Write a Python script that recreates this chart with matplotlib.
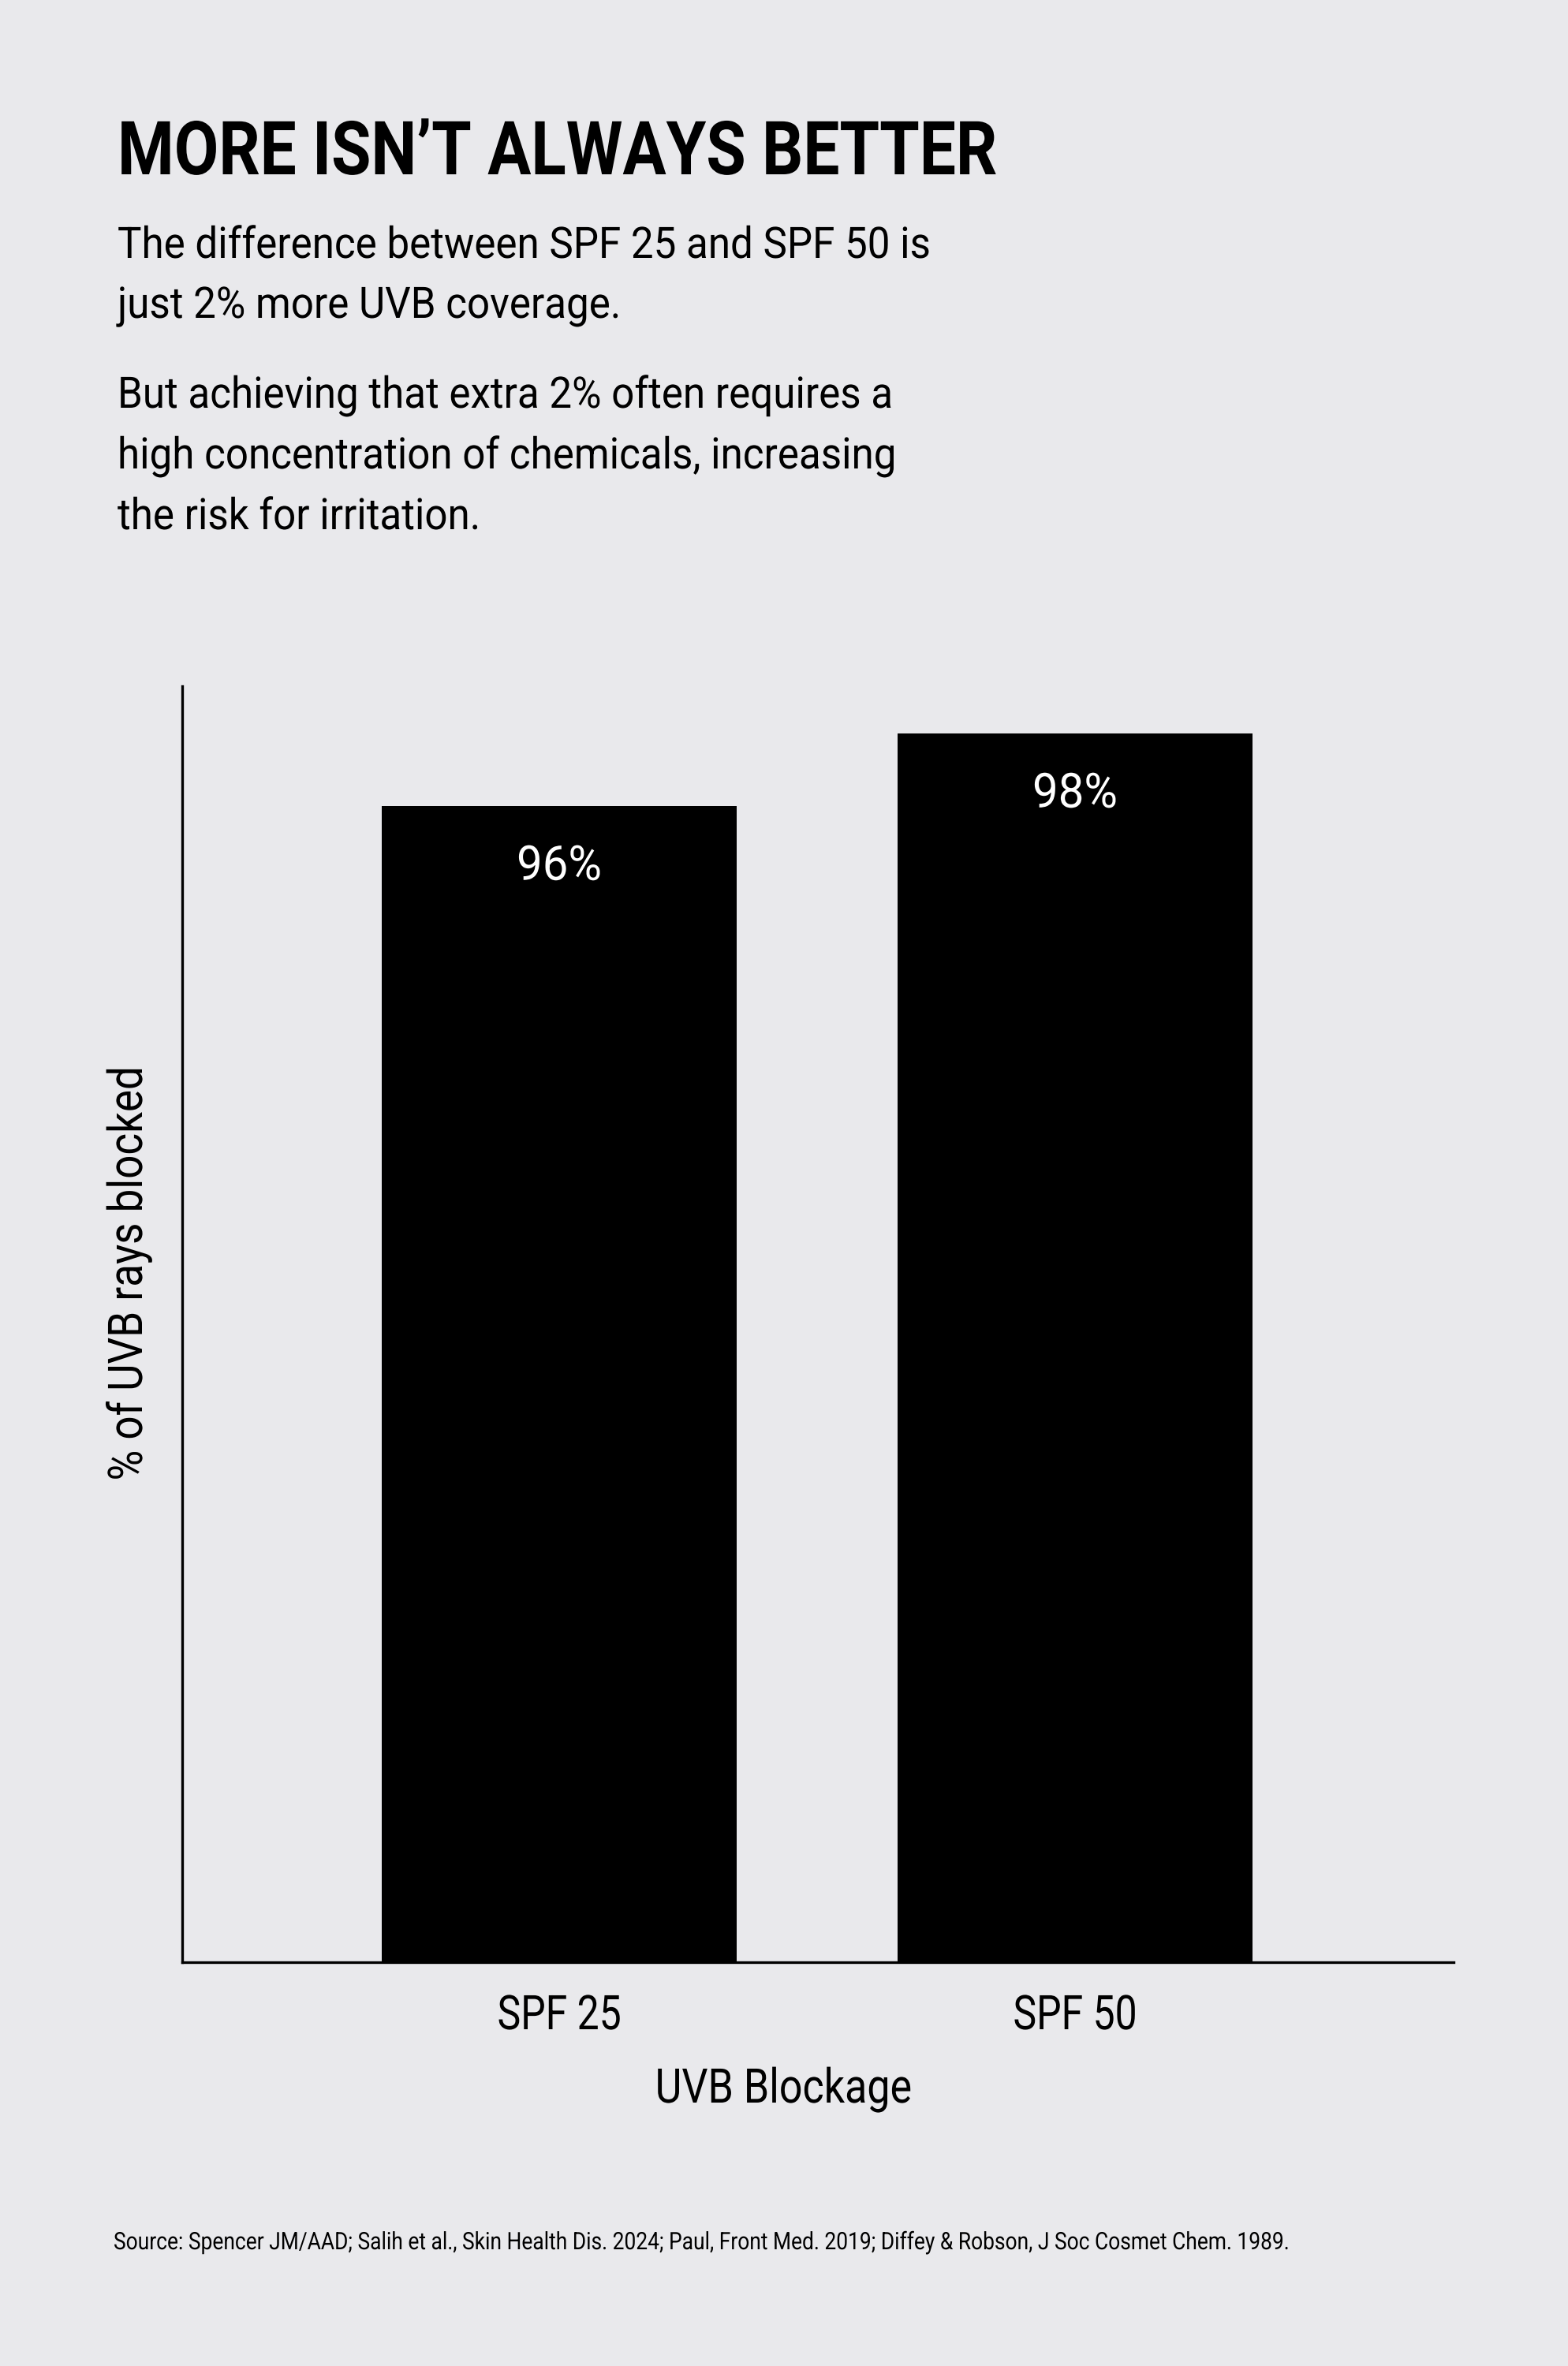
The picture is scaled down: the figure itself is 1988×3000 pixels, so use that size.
import matplotlib
matplotlib.use("Agg")
import matplotlib.pyplot as plt
from matplotlib.patheffects import AbstractPathEffect
from matplotlib.transforms import Affine2D

W, H = 1988, 3000
DPI = 200
BG = "#e9e9ec"

categories = ["SPF 25", "SPF 50"]
blocked = [96, 98]
bar_labels = ["96%", "98%"]

title = "MORE ISN\u2019T ALWAYS BETTER"
para1 = ["The difference between SPF 25 and SPF 50 is",
         "just 2% more UVB coverage."]
para2 = ["But achieving that extra 2% often requires a",
         "high concentration of chemicals, increasing",
         "the risk for irritation."]
x_title = "UVB Blockage"
y_title = "% of UVB rays blocked"
source = ("Source: Spencer JM/AAD; Salih et al., Skin Health Dis. 2024; "
          "Paul, Front Med. 2019; Diffey & Robson, J Soc Cosmet Chem. 1989.")


class Squeeze(AbstractPathEffect):
    """narrow the glyphs, the original uses a condensed face"""

    def __init__(self, sx, centred=False):
        super().__init__()
        self.sx = sx
        self.centred = centred

    def draw_path(self, renderer, gc, tpath, affine, rgbFace=None):
        cx = 0.0
        if self.centred:
            ext = tpath.get_extents()
            cx = (ext.x0 + ext.x1) / 2
        sq = Affine2D().translate(-cx, 0).scale(self.sx, 1).translate(cx, 0)
        renderer.draw_path(gc, tpath, sq + affine, rgbFace)


def fx(px):
    return px / W


def fy(py):
    return 1 - py / H


def pt(px):
    return px * 72 / DPI


plt.rcParams["font.family"] = ["Roboto", "DejaVu Sans"]

fig = plt.figure(figsize=(W / DPI, H / DPI), dpi=DPI, facecolor=BG)

# header
t_title = fig.text(fx(149), fy(221), title, fontsize=34, fontweight="bold",
                   ha="left", va="baseline", color="black")
body = []
for line, base in zip(para1 + para2, [327, 403, 517, 594, 671]):
    body.append(fig.text(fx(149), fy(base), line, fontsize=19.8,
                         ha="left", va="baseline", color="black"))

# chart
ax = fig.add_axes([fx(231), fy(2488), (1843 - 231) / W, (2488 - 870) / H])
ax.set_facecolor("none")
xs = list(range(len(categories)))
bars = ax.bar(xs, blocked, width=0.688, color="black")
ax.set_xlim(-0.731, 1.734)
ax.set_ylim(64.1, 99.3)
ax.set_xticks([])
ax.set_yticks([])
for side in ["top", "right"]:
    ax.spines[side].set_visible(False)
for side in ["left", "bottom"]:
    ax.spines[side].set_linewidth(1.2)
    ax.spines[side].set_color("black")

val_texts = []
for x, v, lab in zip(xs, blocked, bar_labels):
    val_texts.append(ax.annotate(lab, xy=(x, v), xytext=(0, -pt(94)),
                                 textcoords="offset points", ha="center",
                                 va="baseline", color="white", fontsize=22))

cat_texts = []
for x, cat in zip(xs, categories):
    cat_texts.append(ax.annotate(cat, xy=(x, 0), xycoords=("data", "axes fraction"),
                                 xytext=(0, -pt(85)), textcoords="offset points",
                                 ha="center", va="baseline", color="black",
                                 fontsize=21.8))

t_x = fig.text(fx(993), fy(2666), x_title, fontsize=21.8, ha="center",
               va="baseline", color="black")
t_y = fig.text(fx(180), fy(1615), y_title, fontsize=21.8, rotation=90,
               rotation_mode="anchor", ha="center", va="baseline", color="black")

t_src = fig.text(fx(144), fy(2852), source, fontsize=11, ha="left",
                 va="baseline", color="black")

# fit widths to the reference
fig.canvas.draw()
r = fig.canvas.get_renderer()


def squeeze_to(texts, width_px, centred, vertical=False):
    ext = texts[0].get_window_extent(r)
    w = ext.height if vertical else ext.width
    for t in texts:
        t.set_path_effects([Squeeze(width_px / w, centred)])


squeeze_to([t_title], 1116, False)
squeeze_to(body, 1030, False)
squeeze_to(val_texts, 108, True)
squeeze_to(cat_texts, 157, True)
squeeze_to([t_x], 325, True)
squeeze_to([t_y], 525, True, vertical=True)
squeeze_to([t_src], 1489, False)

fig.savefig("out.png", dpi=DPI, facecolor=BG)
